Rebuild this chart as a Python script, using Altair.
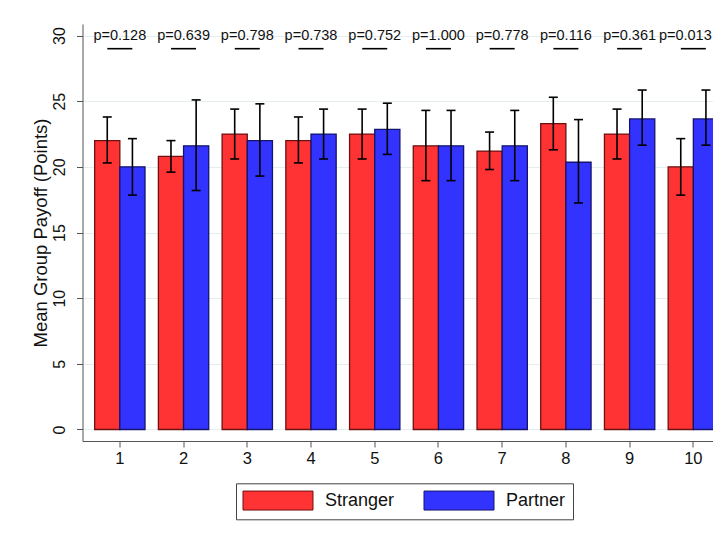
import altair as alt
import pandas as pd

groups = ["1", "2", "3", "4", "5", "6", "7", "8", "9", "10"]
series = ["Stranger", "Partner"]

stranger_mean = [22.0, 20.8, 22.5, 22.0, 22.5, 21.6, 21.2, 23.3, 22.5, 20.0]
stranger_lo = [20.3, 19.6, 20.6, 20.3, 20.6, 18.95, 19.8, 21.3, 20.6, 17.85]
stranger_hi = [23.8, 22.0, 24.4, 23.8, 24.4, 24.3, 22.65, 25.3, 24.4, 22.15]

partner_mean = [20.0, 21.6, 22.0, 22.5, 22.85, 21.6, 21.6, 20.35, 23.65, 23.65]
partner_lo = [17.85, 18.2, 19.3, 20.6, 20.95, 18.95, 18.95, 17.25, 21.65, 21.65]
partner_hi = [22.15, 25.1, 24.8, 24.4, 24.85, 24.3, 24.3, 23.6, 25.85, 25.85]

p_labels = ["p=0.128", "p=0.639", "p=0.798", "p=0.738", "p=0.752",
            "p=1.000", "p=0.778", "p=0.116", "p=0.361", "p=0.013"]
p_text_y = 30
p_line_y = 29

rows = []
for i, g in enumerate(groups):
    rows.append({"Group": g, "Series": "Stranger", "mean": stranger_mean[i],
                 "lo": stranger_lo[i], "hi": stranger_hi[i]})
    rows.append({"Group": g, "Series": "Partner", "mean": partner_mean[i],
                 "lo": partner_lo[i], "hi": partner_hi[i]})
df = pd.DataFrame(rows)

pdf = pd.DataFrame({"Group": groups, "label": p_labels,
                    "ty": [p_text_y] * len(groups), "ly": [p_line_y] * len(groups)})

FONT = "Liberation Sans"

x_enc = alt.X("Group:N", sort=groups,
              scale=alt.Scale(paddingInner=0.21, paddingOuter=0.115, align=0.83),
              axis=alt.Axis(title=None, labelAngle=0, labelFontSize=16.5, labelPadding=3,
                            tickSize=6, domainColor="#555555", tickColor="#555555",
                            labelColor="#111111", grid=False))
xo_enc = alt.XOffset("Series:N", sort=series,
                     scale=alt.Scale(domain=series, paddingInner=0, paddingOuter=0))
y_scale = alt.Scale(domain=[-0.876, 30.88], nice=False, zero=False)
y_axis = alt.Axis(title="Mean Group Payoff (Points)", values=[0, 5, 10, 15, 20, 25, 30],
                  labelAngle=-90, labelAlign="center", labelBaseline="bottom",
                  labelFontSize=16, labelPadding=9, tickSize=6,
                  titleFontSize=18.5, titleFontWeight="normal", titlePadding=1,
                  titleColor="#111111", labelColor="#111111",
                  domainColor="#555555", tickColor="#555555",
                  grid=True, gridColor="#e4edf0", gridWidth=1)

legend_kw = dict(title=None, orient="none", direction="horizontal",
                 legendX=153.5, legendY=459.3,
                 symbolType="M-3.684,-1H3.684V1H-3.684Z", symbolSize=361,
                 symbolOffset=25, symbolStrokeWidth=1, labelFontSize=18,
                 labelFont=FONT, labelColor="#111111",
                 labelOffset=37, columnPadding=27,
                 padding=7, strokeColor="#444444", fillColor="white")

bars = alt.Chart(df).mark_bar(strokeWidth=1.3).encode(
    x=x_enc,
    xOffset=xo_enc,
    y=alt.Y("mean:Q", scale=y_scale, axis=y_axis),
    fill=alt.Fill("Series:N", sort=series,
                  scale=alt.Scale(domain=series, range=["#ff3333", "#3333ff"]),
                  legend=alt.Legend(**legend_kw)),
    stroke=alt.Stroke("Series:N", sort=series,
                      scale=alt.Scale(domain=series, range=["#6e1010", "#14146e"]),
                      legend=alt.Legend(**legend_kw)),
)

err = alt.Chart(df).mark_rule(color="black", strokeWidth=1.6).encode(
    x=alt.X("Group:N", sort=groups),
    xOffset=alt.XOffset("Series:N", sort=series),
    y=alt.Y("lo:Q"),
    y2="hi:Q",
)
cap_lo = alt.Chart(df).mark_tick(color="black", size=9, thickness=1.6, opacity=1).encode(
    x=alt.X("Group:N", sort=groups),
    xOffset=alt.XOffset("Series:N", sort=series),
    y=alt.Y("lo:Q"),
)
cap_hi = alt.Chart(df).mark_tick(color="black", size=9, thickness=1.6, opacity=1).encode(
    x=alt.X("Group:N", sort=groups),
    xOffset=alt.XOffset("Series:N", sort=series),
    y=alt.Y("hi:Q"),
)

last_group = groups[-1]
ptext = alt.Chart(pdf).transform_filter(
    alt.datum.Group != last_group
).mark_text(fontSize=14.5, font=FONT, color="#111111",
            baseline="middle", align="center").encode(
    x=alt.X("Group:N", sort=groups),
    y=alt.Y("ty:Q"),
    text="label:N",
)
ptext_last = alt.Chart(pdf).transform_filter(
    alt.datum.Group == last_group
).mark_text(fontSize=14.5, font=FONT, color="#111111",
            baseline="middle", align="center", dx=-8).encode(
    x=alt.X("Group:N", sort=groups),
    y=alt.Y("ty:Q"),
    text="label:N",
)
pline = alt.Chart(pdf).mark_tick(color="black", size=25, thickness=1.6, opacity=1).encode(
    x=alt.X("Group:N", sort=groups),
    y=alt.Y("ly:Q"),
)

chart = alt.layer(bars, err, cap_lo, cap_hi, pline, ptext, ptext_last).properties(
    width=638.5, height=417,
    autosize=alt.AutoSizeParams(type="none"),
    padding={"left": 74.5, "top": 16, "right": -8, "bottom": 90},
).configure_view(stroke=None).configure_axis(
    labelFont=FONT, titleFont=FONT
).configure_legend(labelFont=FONT)

chart.save("out.html", embed_options={"renderer": "svg", "actions": False})
